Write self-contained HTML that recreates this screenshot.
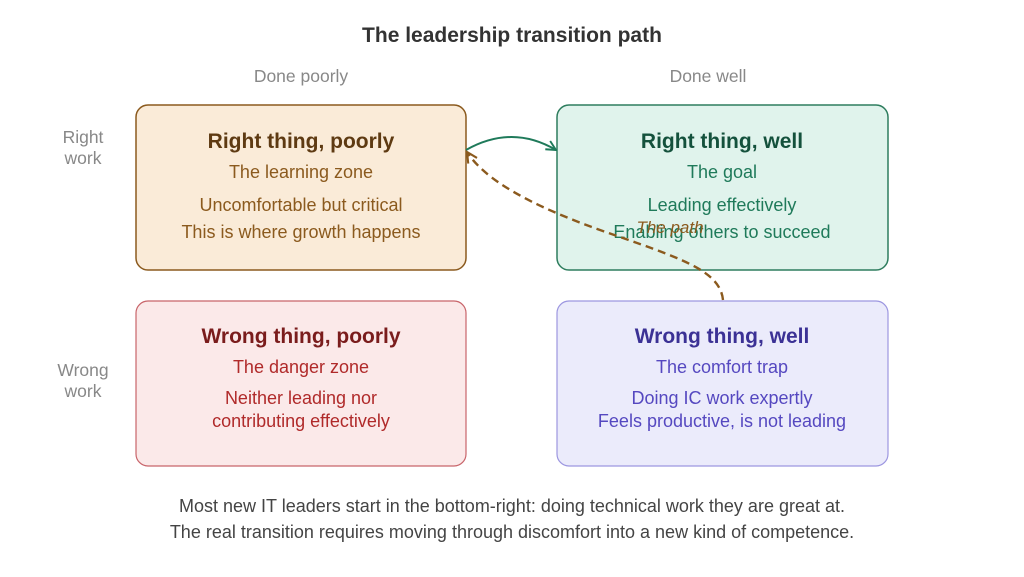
<!DOCTYPE html>
<html><head><meta charset="utf-8"><style>
body{margin:0;background:#fff;}
svg text{font-family:"Liberation Sans",sans-serif;}
</style></head><body>
<svg width="1024" height="572" viewBox="0 0 1024 572" xmlns="http://www.w3.org/2000/svg">
<defs>
<marker id="ag" viewBox="0 0 10 10" refX="9" refY="5" markerWidth="12" markerHeight="12" orient="auto" markerUnits="userSpaceOnUse"><path d="M1,1 L9,5 L1,9" fill="none" stroke="#1f7a5a" stroke-width="1.6"/></marker>
<marker id="ab" viewBox="0 0 10 10" refX="9" refY="5" markerWidth="13" markerHeight="13" orient="auto" markerUnits="userSpaceOnUse"><path d="M1,1 L9,5 L1,9" fill="none" stroke="#8b5a1e" stroke-width="1.6"/></marker>
</defs>
<text x="512" y="42" text-anchor="middle" font-size="21" font-weight="bold" fill="#333">The leadership transition path</text>
<text x="301" y="82" text-anchor="middle" font-size="17.5" fill="#888">Done poorly</text>
<text x="708" y="82" text-anchor="middle" font-size="17.5" fill="#888">Done well</text>
<text x="83" y="143" text-anchor="middle" font-size="17.5" fill="#888">Right</text>
<text x="83" y="164" text-anchor="middle" font-size="17.5" fill="#888">work</text>
<text x="83" y="376" text-anchor="middle" font-size="17.5" fill="#888">Wrong</text>
<text x="83" y="397" text-anchor="middle" font-size="17.5" fill="#888">work</text>

<rect x="136" y="105" width="330" height="165" rx="12" fill="#faebd8" stroke="#8b5a1e" stroke-width="1.5"/>
<text x="301" y="148" text-anchor="middle" font-size="21" font-weight="bold" fill="#5e3a12">Right thing, poorly</text>
<text x="301" y="178" text-anchor="middle" font-size="18" fill="#8b5a1e">The learning zone</text>
<text x="301" y="211" text-anchor="middle" font-size="18" fill="#8b5a1e">Uncomfortable but critical</text>
<text x="301" y="238" text-anchor="middle" font-size="18" fill="#8b5a1e">This is where growth happens</text>

<rect x="557" y="105" width="331" height="165" rx="12" fill="#e0f3ec" stroke="#2e7d5e" stroke-width="1.5"/>
<text x="722" y="148" text-anchor="middle" font-size="21" font-weight="bold" fill="#14513c">Right thing, well</text>
<text x="722" y="178" text-anchor="middle" font-size="18" fill="#1f7a5a">The goal</text>
<text x="722" y="211" text-anchor="middle" font-size="18" fill="#1f7a5a">Leading effectively</text>
<text x="722" y="238" text-anchor="middle" font-size="18" fill="#1f7a5a">Enabling others to succeed</text>

<rect x="136" y="301" width="330" height="165" rx="12" fill="#fbe9e9" stroke="#c8646a" stroke-width="1.2"/>
<text x="301" y="343" text-anchor="middle" font-size="21" font-weight="bold" fill="#7a1c1c">Wrong thing, poorly</text>
<text x="301" y="373" text-anchor="middle" font-size="18" fill="#b02a2a">The danger zone</text>
<text x="301" y="404" text-anchor="middle" font-size="18" fill="#b02a2a">Neither leading nor</text>
<text x="301" y="427" text-anchor="middle" font-size="18" fill="#b02a2a">contributing effectively</text>

<rect x="557" y="301" width="331" height="165" rx="12" fill="#ebebfb" stroke="#9c96e0" stroke-width="1.2"/>
<text x="722" y="343" text-anchor="middle" font-size="21" font-weight="bold" fill="#3b3195">Wrong thing, well</text>
<text x="722" y="373" text-anchor="middle" font-size="18" fill="#5548c0">The comfort trap</text>
<text x="722" y="404" text-anchor="middle" font-size="18" fill="#5548c0">Doing IC work expertly</text>
<text x="722" y="427" text-anchor="middle" font-size="18" fill="#5548c0">Feels productive, is not leading</text>

<path d="M466,150 Q512,124 556,150" fill="none" stroke="#1f7a5a" stroke-width="2" marker-end="url(#ag)"/>
<path d="M723,300 C720,270 680,258 600,230 C530,205 485,180 467,152" fill="none" stroke="#8b5a1e" stroke-width="2.4" stroke-dasharray="8,5" marker-end="url(#ab)"/>
<text x="670" y="233" text-anchor="middle" font-size="17" font-style="italic" fill="#8b5a1e">The path</text>

<text x="512" y="512" text-anchor="middle" font-size="18" fill="#444">Most new IT leaders start in the bottom-right: doing technical work they are great at.</text>
<text x="512" y="538" text-anchor="middle" font-size="18" fill="#444">The real transition requires moving through discomfort into a new kind of competence.</text>
</svg>
</body></html>
